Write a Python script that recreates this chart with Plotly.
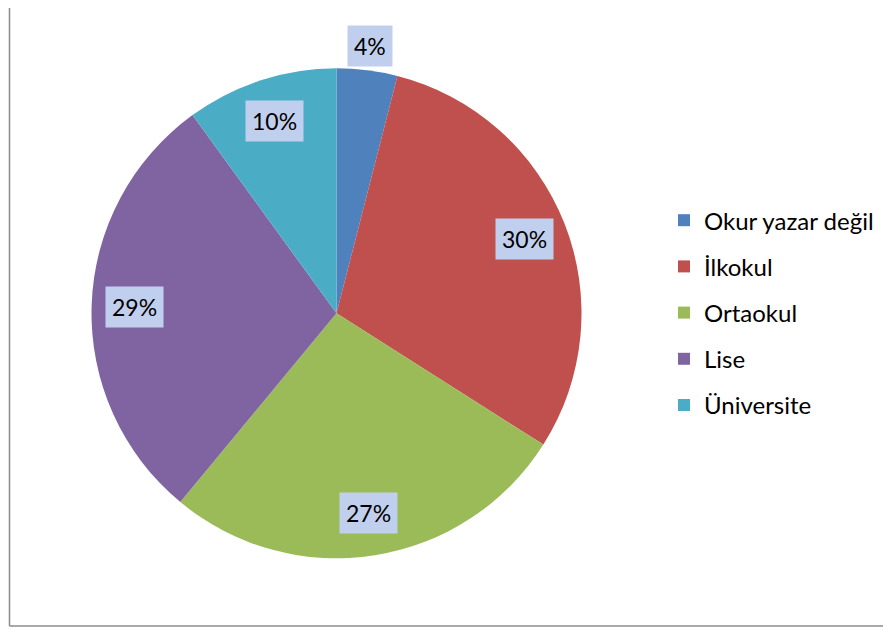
import math
import plotly.graph_objects as go

categories = ["Okur yazar değil", "İlkokul", "Ortaokul", "Lise", "Üniversite"]
values = [4, 30, 27, 29, 10]
colors = ["#4F81BD", "#C0504D", "#9BBB59", "#8064A2", "#4BACC6"]

W, H = 891, 630
OFF = 8  # page body margin
cx, cy, R = 336.5 - OFF, 313.3 - OFF, 245  # pie centre / radius in figure pixels

fig = go.Figure()
fig.add_trace(go.Pie(
    labels=categories, values=values, sort=False, direction="clockwise", rotation=0,
    marker=dict(colors=colors, line=dict(width=0)),
    textinfo="none", hoverinfo="label+percent", showlegend=False,
    domain=dict(x=[(cx - R) / W, (cx + R) / W], y=[(H - cy - R) / H, (H - cy + R) / H]),
))

# legend via dummy traces (one group each so spacing can be set)
for i, (c, col) in enumerate(zip(categories, colors)):
    fig.add_trace(go.Scatter(
        x=[None], y=[None], mode="markers", name=c, legendgroup=str(i),
        marker=dict(symbol="square", size=12, color=col),
    ))

# percentage labels computed from data
total = sum(values)
cum = 0
for v in values:
    mid = (cum + v / 2) / total * 2 * math.pi
    cum += v
    frac = 1.1 if v / total < 0.06 else 0.825
    px = cx + frac * R * math.sin(mid)
    py = cy - frac * R * math.cos(mid)
    fig.add_annotation(
        x=px / W, y=1 - py / H, xref="paper", yref="paper",
        xanchor="center", yanchor="middle",
        text=f"{round(v / total * 100)}%", showarrow=False,
        font=dict(family="Lato, Open Sans, sans-serif", size=23, color="#000"),
        bgcolor="#c1cfee", borderpad=6,
    )

# chart frame (left and bottom edges visible)
fig.add_shape(type="line", xref="paper", yref="paper",
              x0=(9.5 - OFF) / W, x1=(9.5 - OFF) / W, y0=1 - (626 - OFF) / H, y1=1.0,
              line=dict(color="#8c8c8c", width=1.5))
fig.add_shape(type="line", xref="paper", yref="paper",
              x0=(9.5 - OFF) / W, x1=1.0, y0=1 - (626 - OFF) / H, y1=1 - (626 - OFF) / H,
              line=dict(color="#8c8c8c", width=1.5))

fig.update_layout(
    width=W, height=H, margin=dict(l=0, r=0, t=0, b=0),
    paper_bgcolor="white", plot_bgcolor="white",
    xaxis=dict(visible=False), yaxis=dict(visible=False),
    legend=dict(x=(680 - OFF - 16) / W, y=1 - (312.6 - OFF) / H, xanchor="left", yanchor="middle",
                font=dict(family="Lato, Open Sans, sans-serif", size=24, color="#000"),
                tracegroupgap=12, itemwidth=30, bgcolor="rgba(0,0,0,0)"),
)

fig.write_html("out.html")
